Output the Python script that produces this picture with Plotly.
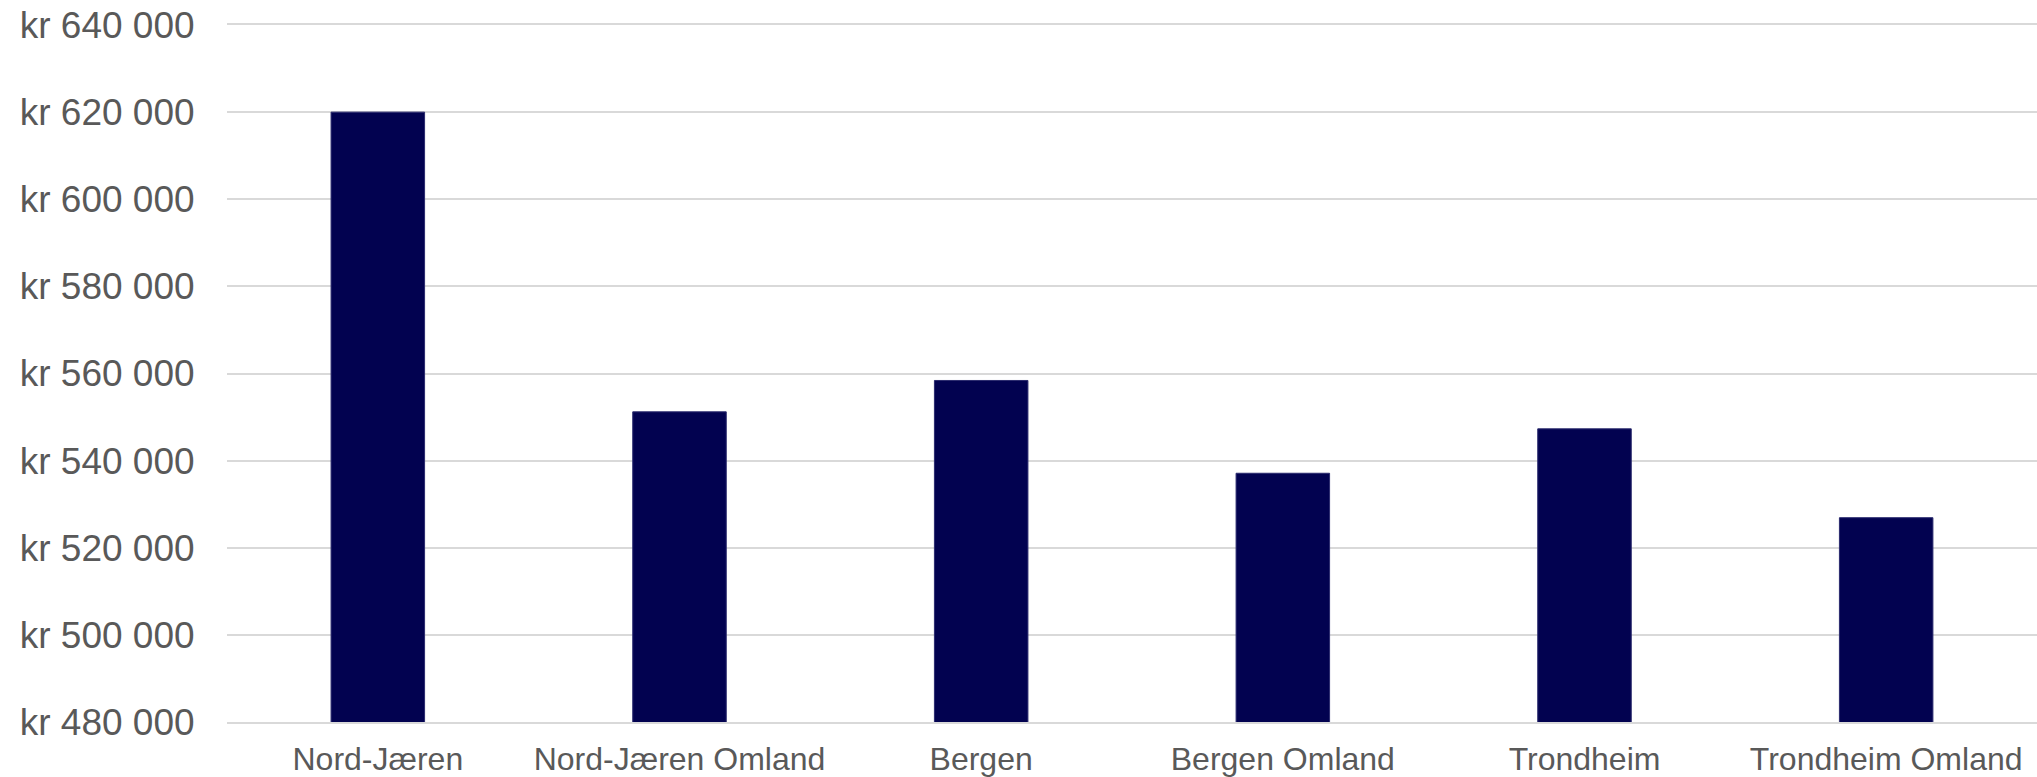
import plotly.graph_objects as go

categories = ["Nord-Jæren", "Nord-Jæren Omland", "Bergen", "Bergen Omland", "Trondheim", "Trondheim Omland"]
values = [620000, 551200, 558400, 537100, 547300, 526900]
tick_vals = [480000, 500000, 520000, 540000, 560000, 580000, 600000, 620000, 640000]
tick_text = ["kr " + f"{v:,}".replace(",", " ") for v in tick_vals]

fig = go.Figure(go.Bar(
    x=categories, y=values,
    marker=dict(color="#020250", line=dict(color="#2b2b6e", width=1)),
))
fig.update_layout(
    width=2037, height=777,
    margin=dict(l=227, r=0, t=25, b=55),
    paper_bgcolor="white", plot_bgcolor="white",
    bargap=0.69,
    showlegend=False,
    font=dict(family="Liberation Sans, Arial, sans-serif", color="#595959"),
)
fig.update_yaxes(
    range=[480000, 640000], tickvals=tick_vals, ticktext=tick_text,
    showgrid=True, gridcolor="#d9d9d9", gridwidth=2,
    zeroline=False, showline=False,
    ticks="outside", ticklen=0, ticklabelstandoff=24,
    tickfont=dict(size=37, color="#595959"),
)
fig.update_xaxes(
    showline=True, linecolor="#d9d9d9", linewidth=2, mirror=True,
    ticks="", ticklabelstandoff=8, tickfont=dict(size=32, color="#595959"),
)
fig.write_html("out.html")
